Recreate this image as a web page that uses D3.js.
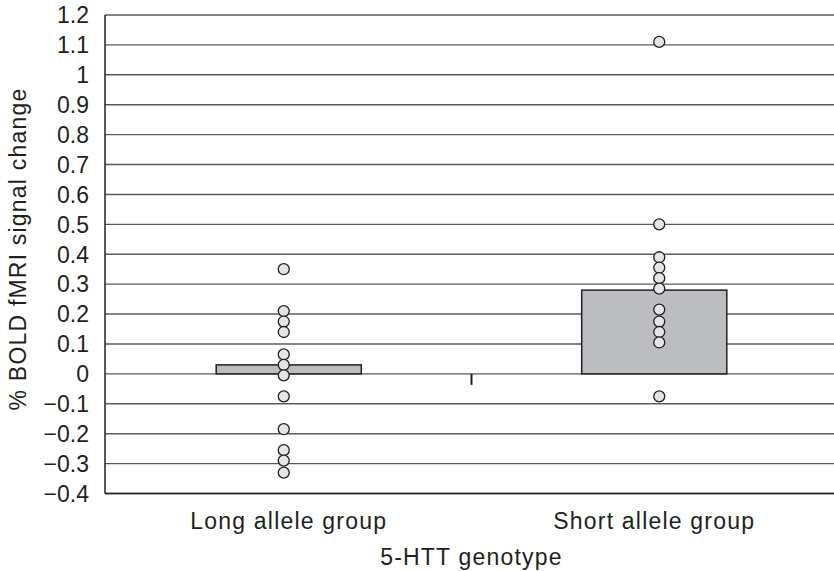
<!DOCTYPE html>
<html>
<head>
<meta charset="utf-8">
<script src="https://cdn.jsdelivr.net/npm/d3@7"></script>
<style>
  body { margin: 0; background: #fff; }
  text { font-family: "Liberation Sans", Arial, sans-serif; fill: #231f20; letter-spacing: 1.2px; }
</style>
</head>
<body>
<script>
// groups and means (bar heights)
const groups = ['Long allele group', 'Short allele group'];
const means = [0.03, 0.28];

// individual subjects
const longVals = [0.35, 0.21, 0.175, 0.14, 0.065, 0.03, -0.005, -0.075, -0.185, -0.255, -0.29, -0.33];
const shortVals = [1.11, 0.50, 0.39, 0.355, 0.32, 0.285, 0.215, 0.175, 0.14, 0.105, -0.075];

const yTicks = [-0.4, -0.3, -0.2, -0.1, 0, 0.1, 0.2, 0.3, 0.4, 0.5, 0.6, 0.7, 0.8, 0.9, 1, 1.1, 1.2];

const W = 834, H = 571;
const plotL = 105, plotR = 834, plotT = 15, plotB = 493.5;

const svg = d3.select('body').append('svg')
  .attr('width', W)
  .attr('height', H);

const y = d3.scaleLinear()
  .domain([-0.4, 1.2])
  .range([plotB, plotT]);

const x = d3.scaleBand()
  .domain(groups)
  .range([106, 837]);

const barW = x.bandwidth() * 0.397;
const dotShift = [-5, 5]; // dots sit a bit off the bar centre

// gridlines
svg.append('g')
  .selectAll('line')
  .data(yTicks)
  .enter()
  .append('line')
  .attr('x1', plotL)
  .attr('x2', plotR)
  .attr('y1', d => y(d))
  .attr('y2', d => y(d))
  .attr('stroke', '#5a5b5d')
  .attr('stroke-width', 1.4);

// tick labels
const fmt = v => v < 0 ? '\u2212' + Math.abs(v) : String(v);
svg.append('g')
  .selectAll('text')
  .data(yTicks)
  .enter()
  .append('text')
  .attr('x', 89)
  .attr('y', d => y(d))
  .attr('dy', '0.36em')
  .attr('text-anchor', 'end')
  .attr('font-size', 23)
  .style('letter-spacing', '0px')
  .text(fmt);

// bars
svg.append('g')
  .selectAll('rect')
  .data(groups)
  .enter()
  .append('rect')
  .attr('x', d => x(d) + x.bandwidth() / 2 - barW / 2)
  .attr('width', barW)
  .attr('y', (d, i) => y(means[i]))
  .attr('height', (d, i) => y(0) - y(means[i]))
  .attr('fill', '#bcbdc1')
  .attr('stroke', '#231f20')
  .attr('stroke-width', 1.5);

// dots
const series = [longVals, shortVals];
series.forEach((vals, gi) => {
  const cx = x(groups[gi]) + x.bandwidth() / 2 + dotShift[gi];
  svg.append('g')
    .selectAll('circle')
    .data(vals)
    .enter()
    .append('circle')
    .attr('cx', cx)
    .attr('cy', d => y(d))
    .attr('r', 5.5)
    .attr('fill', '#e3e4e6')
    .attr('stroke', '#231f20')
    .attr('stroke-width', 1.3);
});

// axes lines
svg.append('line')
  .attr('x1', plotL).attr('x2', plotL)
  .attr('y1', plotT).attr('y2', plotB)
  .attr('stroke', '#231f20').attr('stroke-width', 1.5);
svg.append('line')
  .attr('x1', plotL).attr('x2', plotR)
  .attr('y1', plotB).attr('y2', plotB)
  .attr('stroke', '#231f20').attr('stroke-width', 1.5);

// category divider tick on the zero line
svg.append('line')
  .attr('x1', x(groups[1])).attr('x2', x(groups[1]))
  .attr('y1', y(0)).attr('y2', y(0) + 11)
  .attr('stroke', '#231f20').attr('stroke-width', 2);

// category labels
svg.append('g')
  .selectAll('text')
  .data(groups)
  .enter()
  .append('text')
  .attr('x', d => x(d) + x.bandwidth() / 2)
  .attr('y', 529)
  .attr('text-anchor', 'middle')
  .attr('font-size', 23)
  .text(d => d);

svg.append('text')
  .attr('x', x(groups[1]))
  .attr('y', 565)
  .attr('text-anchor', 'middle')
  .attr('font-size', 23)
  .text('5-HTT genotype');

svg.append('text')
  .attr('transform', 'translate(26,' + 249 + ') rotate(-90)')
  .attr('text-anchor', 'middle')
  .attr('font-size', 23)
  .text('% BOLD fMRI signal change');
</script>
</body>
</html>
